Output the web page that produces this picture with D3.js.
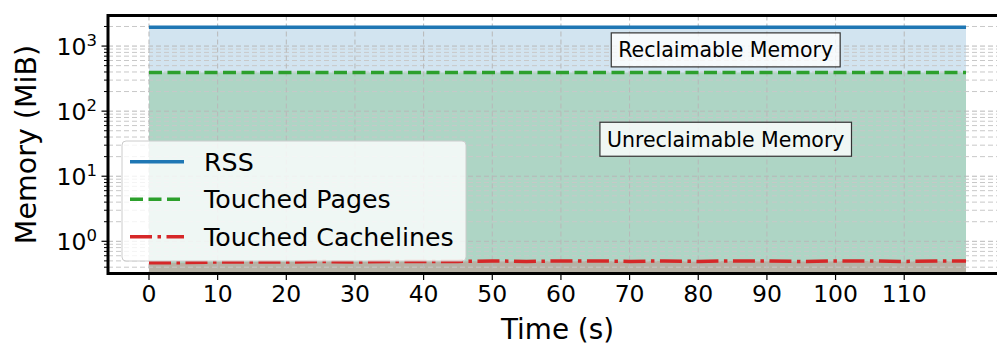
<!DOCTYPE html>
<html>
<head>
<meta charset="utf-8">
<script src="https://cdn.jsdelivr.net/npm/d3@7"></script>
<style>
  body { margin: 0; background: #fff; }
  svg { font-family: "DejaVu Sans", sans-serif; }
</style>
</head>
<body>
<svg id="chart" width="997" height="345"></svg>
<script>
// data
const time = [0, 5, 10, 15, 20, 25, 30, 35, 40, 45, 50, 55, 60, 65, 70, 75, 80, 85, 90, 95, 100, 105, 110, 115, 119];
const rss = [1940, 1940, 1940, 1940, 1940, 1940, 1940, 1940, 1940, 1940, 1940, 1940, 1940,
    1940, 1940, 1940, 1940, 1940, 1940, 1940, 1940, 1940, 1940, 1940, 1940];
const touchedPages = [394, 394, 394, 394, 394, 394, 394, 394, 394, 394, 394, 394, 394,
    394, 394, 394, 394, 394, 394, 394, 394, 394, 394, 394, 394];
const touchedCachelines = [0.47, 0.47, 0.48, 0.48, 0.48, 0.49, 0.48, 0.49, 0.49, 0.49, 0.50, 0.49, 0.50,
    0.50, 0.49, 0.50, 0.49, 0.50, 0.50, 0.49, 0.50, 0.50, 0.49, 0.50, 0.50];
const xTicks = [0, 10, 20, 30, 40, 50, 60, 70, 80, 90, 100, 110];
const yTicks = [1, 10, 100, 1000];
const seriesNames = ["RSS", "Touched Pages", "Touched Cachelines"];
const annotations = [
    { text: "Reclaimable Memory", t: 84, v: 874 },
    { text: "Unreclaimable Memory", t: 84, v: 37 }
];

const plotLeft = 108, plotRight = 1007, plotTop = 15.5, plotBottom = 273.5;

const x = d3.scaleLinear().domain([-5.97, 124.97]).range([plotLeft, plotRight]);
const y = d3.scaleLog().domain([0.32, 2950]).range([plotBottom, plotTop]);

const svg = d3.select('#chart');

svg.append('defs').append('clipPath')
    .attr('id', 'plot-clip')
    .append('rect')
    .attr('x', plotLeft).attr('y', plotTop)
    .attr('width', plotRight - plotLeft).attr('height', plotBottom - plotTop);

const plot = svg.append('g').attr('clip-path', 'url(#plot-clip)');

const rows = time.map((t, i) => ({ t, rss: rss[i], pages: touchedPages[i], lines: touchedCachelines[i] }));

// fills
function fillArea(key, color, opacity) {
    plot.append('path')
        .datum(rows)
        .attr('d', d3.area()
            .x(d => x(d.t))
            .y0(plotBottom + 5)
            .y1(d => y(d[key])))
        .attr('fill', color)
        .attr('fill-opacity', opacity);
}
fillArea('rss', '#1f77b4', 0.2);
fillArea('pages', '#2ca02c', 0.22);
fillArea('lines', '#d62728', 0.2);

// grid
const minorY = [];
[0.1, 1, 10, 100, 1000].forEach(base => {
    for (let k = 2; k <= 9; k++) minorY.push(base * k);
});
const yDomain = y.domain();
const minorVisible = minorY.filter(v => v >= yDomain[0] && v <= yDomain[1]);

plot.append('g').selectAll('line')
    .data(minorVisible)
    .join('line')
    .attr('x1', plotLeft).attr('x2', plotRight)
    .attr('y1', d => y(d)).attr('y2', d => y(d))
    .attr('stroke', '#c8c8c8')
    .attr('stroke-width', 1)
    .attr('stroke-dasharray', '5,3');

plot.append('g').selectAll('line')
    .data(yTicks)
    .join('line')
    .attr('x1', plotLeft).attr('x2', plotRight)
    .attr('y1', d => y(d)).attr('y2', d => y(d))
    .attr('stroke', '#b8b8b8')
    .attr('stroke-width', 1)
    .attr('stroke-dasharray', '5,3');

plot.append('g').selectAll('line')
    .data(xTicks)
    .join('line')
    .attr('x1', d => x(d)).attr('x2', d => x(d))
    .attr('y1', plotTop).attr('y2', plotBottom)
    .attr('stroke', '#b8b8b8')
    .attr('stroke-width', 1)
    .attr('stroke-dasharray', '5,3');

// lines
const lineStyles = [
    { key: 'rss', color: '#1f77b4', dash: null },
    { key: 'pages', color: '#2ca02c', dash: '13,5.5' },
    { key: 'lines', color: '#d62728', dash: '22,5.5,3.5,5.5' }
];
lineStyles.forEach(s => {
    plot.append('path')
        .datum(rows)
        .attr('d', d3.line().x(d => x(d.t)).y(d => y(d[s.key])))
        .attr('fill', 'none')
        .attr('stroke', s.color)
        .attr('stroke-width', 3.5)
        .attr('stroke-dasharray', s.dash);
});

// annotation boxes
annotations.forEach(a => {
    const g = svg.append('g');
    const txt = g.append('text')
        .attr('x', x(a.t))
        .attr('y', y(a.v) + 7.3)
        .attr('text-anchor', 'middle')
        .attr('font-size', 20.5)
        .attr('fill', '#000')
        .text(a.text);
    const bb = txt.node().getBBox();
    g.insert('rect', 'text')
        .attr('x', bb.x - 7)
        .attr('y', y(a.v) - 17)
        .attr('width', bb.width + 14)
        .attr('height', 34)
        .attr('fill', '#fff')
        .attr('fill-opacity', 0.8)
        .attr('stroke', '#333')
        .attr('stroke-width', 1.2);
});

// axes ticks
const axisG = svg.append('g');
axisG.selectAll('.xtick')
    .data(xTicks)
    .join('line')
    .attr('x1', d => x(d)).attr('x2', d => x(d))
    .attr('y1', plotBottom).attr('y2', plotBottom + 6.5)
    .attr('stroke', '#000').attr('stroke-width', 1.2);
axisG.selectAll('.xlabel')
    .data(xTicks)
    .join('text')
    .attr('x', d => x(d))
    .attr('y', 302)
    .attr('text-anchor', 'middle')
    .attr('font-size', 23.5)
    .text(d => d);

axisG.selectAll('.yminor')
    .data(minorVisible)
    .join('line')
    .attr('x1', plotLeft - 4).attr('x2', plotLeft)
    .attr('y1', d => y(d)).attr('y2', d => y(d))
    .attr('stroke', '#000').attr('stroke-width', 1);
axisG.selectAll('.ymajor')
    .data(yTicks)
    .join('line')
    .attr('x1', plotLeft - 6.5).attr('x2', plotLeft)
    .attr('y1', d => y(d)).attr('y2', d => y(d))
    .attr('stroke', '#000').attr('stroke-width', 1.2);

const yLabels = axisG.selectAll('.ylabel')
    .data(yTicks)
    .join('text')
    .attr('x', 97)
    .attr('y', d => y(d) + 9)
    .attr('text-anchor', 'end')
    .attr('font-size', 23.5);
yLabels.append('tspan').text('10');
yLabels.append('tspan')
    .attr('dy', -9)
    .attr('font-size', 16.5)
    .text(d => Math.round(Math.log10(d)));

// spines
svg.append('rect')
    .attr('x', plotLeft).attr('y', plotTop)
    .attr('width', plotRight - plotLeft).attr('height', plotBottom - plotTop)
    .attr('fill', 'none')
    .attr('stroke', '#000')
    .attr('stroke-width', 3);

// axis titles
svg.append('text')
    .attr('x', (plotLeft + plotRight) / 2)
    .attr('y', 338.5)
    .attr('text-anchor', 'middle')
    .attr('font-size', 27.8)
    .text('Time (s)');
svg.append('text')
    .attr('transform', `translate(36, ${(plotTop + plotBottom) / 2}) rotate(-90)`)
    .attr('text-anchor', 'middle')
    .attr('font-size', 28.5)
    .text('Memory (MiB)');

// legend
const legend = svg.append('g').attr('transform', 'translate(122, 141)');
legend.append('rect')
    .attr('width', 344).attr('height', 120)
    .attr('rx', 4)
    .attr('fill', '#fff').attr('fill-opacity', 0.8)
    .attr('stroke', '#cccccc').attr('stroke-width', 1);
lineStyles.forEach((s, i) => {
    const cy = 20.7 + i * 37.5;
    legend.append('line')
        .attr('x1', 8).attr('x2', 62)
        .attr('y1', cy).attr('y2', cy)
        .attr('stroke', s.color)
        .attr('stroke-width', 3.5)
        .attr('stroke-dasharray', s.dash);
    legend.append('text')
        .attr('x', 82)
        .attr('y', cy + 9)
        .attr('font-size', 25.3)
        .text(seriesNames[i]);
});
</script>
</body>
</html>
